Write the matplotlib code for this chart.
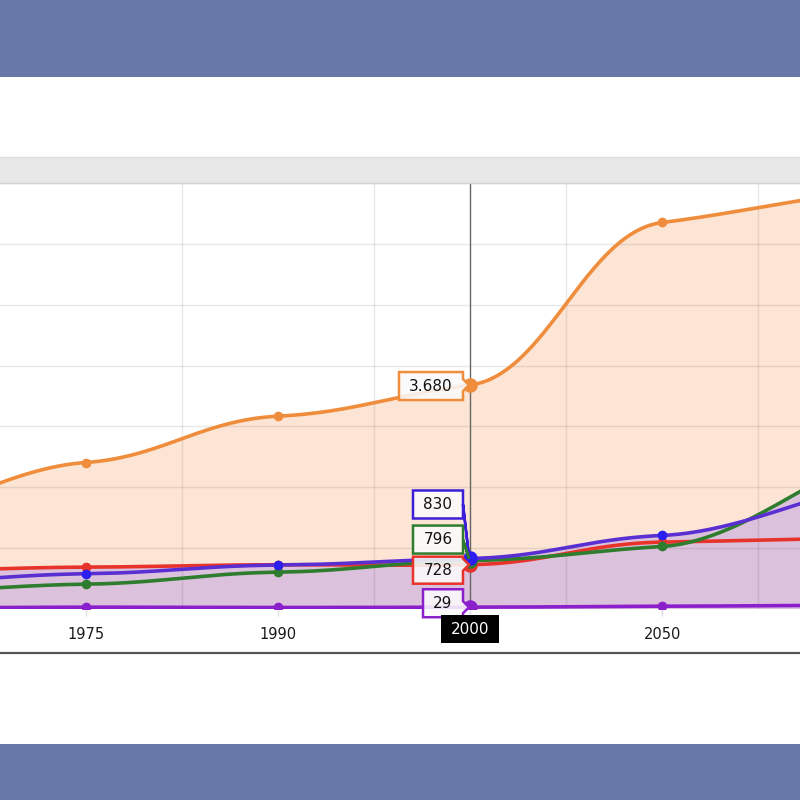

# population by region, recreated as a smoothed area chart with a cursor tooltip
import numpy as np
import matplotlib
matplotlib.use('Agg')
import matplotlib.pyplot as plt
from matplotlib.patches import Polygon, Rectangle
from matplotlib.lines import Line2D
from matplotlib.transforms import IdentityTransform

# data (millions)
years = ['1950', '1975', '1990', '2000', '2050', '2100']
asia = [1444, 2407, 3168, 3680, 6351, 6820]
america = [400, 579, 722, 830, 1209, 1950]
africa = [250, 408, 605, 796, 1028, 2320]
europe = [610, 688, 727, 728, 1099, 1160]
oceania = [12, 30, 25, 29, 46, 62]
hover = 3  # index of the hovered category (2000)
tip_labels = ['3.680', '830', '796', '728', '29']

W = H = 800
fig = plt.figure(figsize=(8, 8), dpi=100)
fig.patch.set_facecolor('white')

# banners, scrollbar band and bottom rule
fig.add_artist(Rectangle((0, 1 - 77 / H), 1, 77 / H, transform=fig.transFigure, color='#6879a9', lw=0))
fig.add_artist(Rectangle((0, 0), 1, 56 / H, transform=fig.transFigure, color='#6879a9', lw=0))
fig.add_artist(Rectangle((0, 1 - 183 / H), 1, 26 / H, transform=fig.transFigure,
                         facecolor='#e8e8e8', edgecolor='none'))
for yy, c in [(157, '#dcdcdc'), (183, '#d4d4d4')]:
    fig.add_artist(Line2D([0, 1], [1 - yy / H, 1 - yy / H], transform=fig.transFigure, color=c, lw=1))
fig.add_artist(Line2D([0, 1], [1 - 653 / H, 1 - 653 / H], transform=fig.transFigure, color='#555555', lw=1.6))

ax = fig.add_axes([0, 1 - 609 / H, 1, (609 - 183) / H])
ax.set_facecolor('none')
xs = np.arange(len(years))


def tension_curve(x, y, tx=0.2, ty=0.05, n=60):
    # cubic bezier per segment, control points p1 + t*(p2 - p0) and p2 - t*(p3 - p1)
    x = np.asarray(x, float)
    y = np.asarray(y, float)
    m = len(x)
    t = np.linspace(0, 1, n)[:, None]
    out = []
    for i in range(m - 1):
        i0 = max(i - 1, 0)
        i3 = min(i + 2, m - 1)
        p0 = np.array([x[i0], y[i0]])
        p1 = np.array([x[i], y[i]])
        p2 = np.array([x[i + 1], y[i + 1]])
        p3 = np.array([x[i3], y[i3]])
        k = np.array([tx, ty])
        c1 = p1 + k * (p2 - p0)
        c2 = p2 - k * (p3 - p1)
        seg = (1 - t) ** 3 * p1 + 3 * (1 - t) ** 2 * t * c1 + 3 * (1 - t) * t ** 2 * c2 + t ** 3 * p2
        out.append(seg if i == 0 else seg[1:])
    out = np.vstack(out)
    return out[:, 0], out[:, 1]


series = [
    (asia, '#ef8d3c', '#ef8d3c'),
    (america, '#5a2fd2', '#2a1ff0'),
    (africa, '#2e7d2e', '#2e7d2e'),
    (europe, '#e8332b', '#e8332b'),
    (oceania, '#8c1fcc', '#8c1fcc'),
]

# fills
sx, sy = tension_curve(xs, asia)
ax.fill_between(sx, 0, sy, color='#fde5d5', lw=0, zorder=1)
for vals in [america, africa, europe, oceania]:
    sx, sy = tension_curve(xs, vals)
    ax.fill_between(sx, 0, sy, color='#dcc1dc', lw=0, zorder=2)

# grid above the fills, faint
ax.set_xticks(xs)
ax.set_xticklabels(['' if i == hover else y for i, y in enumerate(years)])
ax.grid(False)
for v in np.arange(1000, 7001, 1000):
    ax.axhline(v, color='black', alpha=0.09, lw=1, zorder=3)
for v in xs[:-1] + 0.5:
    ax.axvline(v, color='black', alpha=0.09, lw=1, zorder=3)

# lines and markers
for vals, lc_, mc in series[::-1]:
    sx, sy = tension_curve(xs, vals)
    ax.plot(sx, sy, color=lc_, lw=2.6, zorder=4, solid_capstyle='round')
    ax.plot(xs, vals, 'o', color=mc, ms=7, mec='none', zorder=5)
    ax.plot([xs[hover]], [vals[hover]], 'o', color=mc, ms=10.5, mec='none', zorder=6)

# crosshair
ax.axvline(xs[hover], color='#666666', lw=1, zorder=3.5)

ax.set_xlim(1 - 85.5 / 192.25, 3 + 330 / 192.25)
ax.set_ylim(0, 7000)

for s in ax.spines.values():
    s.set_visible(False)
ax.tick_params(axis='y', left=False, labelleft=False)
ax.tick_params(axis='x', which='major', length=5, width=1, color='#d9dde8',
               labelsize=10.5, pad=8, labelcolor='#1a1a1a')

# tooltip callouts, positioned in pixels relative to their point
fig.canvas.draw()
ident = IdentityTransform()


def to_disp(px, py):
    return (px, H - py)


def anchor_px(v):
    dx, dy = ax.transData.transform((xs[hover], v))
    return dx, H - dy


def callout(v, text, edge, box, mode):
    ax0, ay0 = anchor_px(v)
    l, r, t, b = ax0 + box[0], ax0 + box[1], ay0 + box[2], ay0 + box[3]
    if mode == 'right':
        cy = min(max(ay0, t + 6), b - 6)
        pts = [(l, t), (r, t), (r, cy - 6), (ax0 - 1, ay0), (r, cy + 6), (r, b), (l, b)]
    else:
        cy = (t + b) / 2
        pts = [(l, t), (r, t), (r, cy), (ax0 - 1, ay0 - 2), (r, cy), (r, b), (l, b)]
    poly = Polygon([to_disp(*p) for p in pts], closed=True, transform=ident,
                   facecolor=(0.98, 0.98, 0.98, 0.88), edgecolor=edge, lw=1.8, joinstyle='miter')
    fig.add_artist(poly)
    tx, ty = to_disp((l + r) / 2, (t + b) / 2)
    fig.text(tx, ty, text, transform=ident, ha='center', va='center', fontsize=11, color='#111111')


callout(asia[hover], tip_labels[0], '#ef8d3c', (-71, -7, -13, 15), 'right')
callout(america[hover], tip_labels[1], '#3b1fd8', (-57, -7, -68, -40), 'down')
callout(africa[hover], tip_labels[2], '#2e7d2e', (-57, -7, -35, -7), 'down')
callout(europe[hover], tip_labels[3], '#e8332b', (-57, -7, -8, 19), 'right')
callout(oceania[hover], tip_labels[4], '#8c1fcc', (-47, -7, -18, 10), 'right')

# category label of the cursor
hx, _ = anchor_px(0)
fig.add_artist(Rectangle(to_disp(hx - 29, 643), 58, 28, transform=ident, facecolor='black', lw=0))
fig.text(hx, H - 629, years[hover], transform=ident, ha='center', va='center',
         fontsize=11, color='white')

fig.savefig('out.png', dpi=100)
